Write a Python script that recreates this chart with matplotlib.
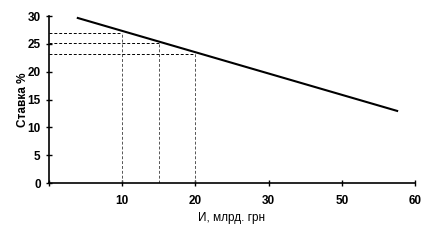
import matplotlib.pyplot as plt

# x axis is a category-style axis: one slot per label
tick_labels = ["", "10", "20", "30", "50", "60"]
tick_pos = [0, 1, 2, 3, 4, 5]

# straight line (start / end), in slot units
line_x = [0.38, 4.77]
line_y = [29.7, 12.9]

# marked points: И = 10, 15, 20
mark_x = [1, 1.5, 2]
mark_y = [27.0, 25.2, 23.2]

plt.rcParams["font.family"] = ["Liberation Sans", "DejaVu Sans"]

fig = plt.figure(figsize=(4.29, 2.47), dpi=100)
ax = fig.add_axes([0.1142, 0.2591, 0.8531, 0.676])

ax.plot(line_x, line_y, color="black", lw=1.5, solid_capstyle="butt")

for mx, my in zip(mark_x, mark_y):
    ax.plot([0, mx], [my, my], color="black", lw=0.7, dashes=(3, 2))
    ax.plot([mx, mx], [0, my], color="#555555", lw=0.7, dashes=(3, 2))

ax.set_xlim(0, 5)
ax.set_ylim(0, 30)
ax.set_xticks(tick_pos)
ax.set_xticklabels(tick_labels, fontsize=8.5, fontweight="bold")
ax.set_yticks(range(0, 31, 5))
ax.tick_params(axis="y", labelsize=8.5, direction="inout", length=5, width=1)
ax.tick_params(axis="x", direction="inout", length=5, width=1, pad=6)
for lab in ax.get_yticklabels():
    lab.set_fontweight("bold")

ax.spines["top"].set_visible(False)
ax.spines["right"].set_visible(False)
ax.spines["left"].set_linewidth(1.2)
ax.spines["bottom"].set_linewidth(1.2)

ax.set_ylabel("Ставка %", fontsize=8.5, fontweight="bold", labelpad=-1)
ax.set_xlabel("И, млрд. грн", fontsize=8.5, labelpad=4)

fig.savefig("out.png", dpi=100)
